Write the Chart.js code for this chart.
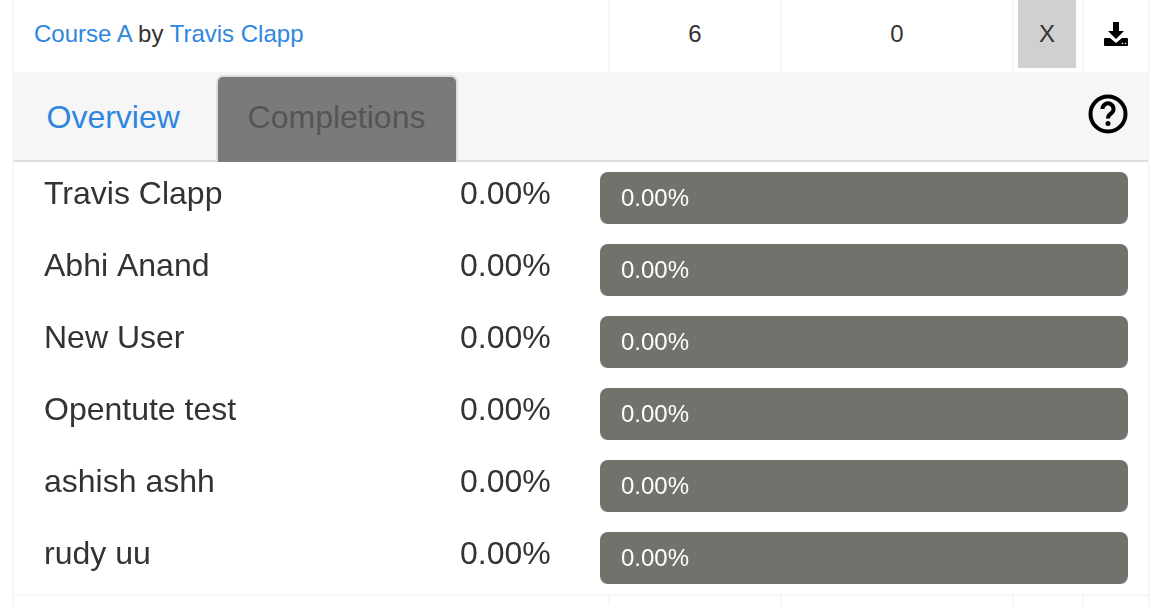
<!DOCTYPE html>
<html>
<head>
<meta charset="utf-8">
<title>Completions</title>
<script src="https://cdn.jsdelivr.net/npm/chart.js@4"></script>
<style>
    html, body { margin: 0; padding: 0; background: #fff; overflow: hidden; }
    body { position: relative; width: 1158px; height: 606px; font-family: "Liberation Sans", Arial, sans-serif; color: #333; }
    .abs { position: absolute; }
    .vline { position: absolute; width: 2px; background: #f6f6f6; }
    a { color: #2f86de; text-decoration: none; }
    .cell { position: absolute; top: 0; height: 68px; line-height: 68px; font-size: 24px; text-align: center; }
    #tabs { left: 14px; top: 72px; width: 1134px; height: 88px; background: #f6f6f6; border-bottom: 2px solid #ddd; }
    #overview { left: 46.500px; top: 98px; font-size: 32px; line-height: 38px; }
    #completions {
        left: 216px; top: 75px; width: 238px; height: 85px;
        background: #7a7a7a; border: 2px solid #ddd; border-bottom: none; border-radius: 7px 7px 0 0;
        color: #555; font-size: 32px; line-height: 80px; text-align: center; text-indent: -1px;
    }
    #chart { position: absolute; left: 0; top: 162px; }
</style>
</head>
<body>
    <div class="vline" style="left:12px;top:0;height:606px"></div>
    <div class="vline" style="left:1148px;top:0;height:606px"></div>
    <div class="vline" style="left:608px;top:0;height:72px"></div>
    <div class="vline" style="left:780px;top:0;height:72px"></div>
    <div class="vline" style="left:1012px;top:0;height:72px"></div>
    <div class="vline" style="left:1082px;top:0;height:72px"></div>
    <div class="vline" style="left:608px;top:596px;height:10px"></div>
    <div class="vline" style="left:780px;top:596px;height:10px"></div>
    <div class="vline" style="left:1012px;top:596px;height:10px"></div>
    <div class="vline" style="left:1082px;top:596px;height:10px"></div>
    <div class="abs" style="left:14px;top:594px;width:1134px;height:2px;background:#f6f6f6"></div>

    <div class="abs" style="left:34px;top:0;height:68px;line-height:68px;font-size:24px"><a>Course A</a> by <a>Travis Clapp</a></div>
    <div class="cell" style="left:610px;width:170px">6</div>
    <div class="cell" style="left:782px;width:230px">0</div>
    <div class="cell" style="left:1018px;width:58px;background:#d0d0d0">X</div>
    <svg class="abs" style="left:1103px;top:21px" width="27" height="27" viewBox="0 0 27 27">
        <path fill="#000" d="M10 1h6v9h5l-8 8-8-8h5z"/>
        <path fill="#000" d="M2 17h5l6 5 6-5h5a1 1 0 0 1 1 1v6a1 1 0 0 1-1 1H2a1 1 0 0 1-1-1v-6a1 1 0 0 1 1-1z"/>
        <circle cx="19.500" cy="22.500" r="0.800" fill="#fff"/>
        <circle cx="22.500" cy="22.500" r="0.800" fill="#fff"/>
    </svg>

    <div id="tabs" class="abs"></div>
    <a id="overview" class="abs">Overview</a>
    <div id="completions" class="abs">Completions</div>
    <svg class="abs" style="left:1088px;top:94px" width="40" height="40" viewBox="0 0 40 40">
        <circle cx="20" cy="20" r="17.500" fill="none" stroke="#000" stroke-width="4"/>
        <path fill="none" stroke="#000" stroke-width="4" d="M14.500 15a5.500 5.500 0 1 1 8.500 4.500c-2.500 1.700-3 2.800-3 5"/>
        <circle cx="20" cy="29.500" r="2.500" fill="#000"/>
    </svg>

    <canvas id="chart" width="1158" height="432"></canvas>

<script>
// Dados do grafico
const learners = ['Travis Clapp', 'Abhi Anand', 'New User', 'Opentute test', 'ashish ashh', 'rudy uu'];
const completed = [0, 0, 0, 0, 0, 0];
const remaining = [100, 100, 100, 100, 100, 100];
const axisMax = 100;

const fontFamily = '"Liberation Sans", Arial, sans-serif';

// Escreve as porcentagens: a coluna do meio e o texto dentro da barra
const percentLabels = {
    id: 'percentLabels',
    afterDatasetsDraw(chart) {
        const ctx = chart.ctx;
        const bars = chart.getDatasetMeta(1).data;
        ctx.save();
        ctx.textBaseline = 'middle';
        ctx.textAlign = 'left';
        bars.forEach((bar, i) => {
            const text = completed[i].toFixed(2) + '%';
            ctx.font = '32px ' + fontFamily;
            ctx.fillStyle = '#333';
            ctx.fillText(text, 460, bar.y - 3);
            ctx.font = '24px ' + fontFamily;
            ctx.fillStyle = '#fff';
            ctx.fillText(text, chart.chartArea.left + 21, bar.y + 1);
        });
        ctx.restore();
    }
};

new Chart(document.getElementById('chart').getContext('2d'), {
    type: 'bar',
    data: {
        labels: learners,
        datasets: [
            { label: 'Completed', data: completed, backgroundColor: '#2f86de', borderWidth: 0, barThickness: 52, inflateAmount: 0 },
            { label: 'Remaining', data: remaining, backgroundColor: '#72716b', borderWidth: 0, barThickness: 52, borderRadius: 8, borderSkipped: false, inflateAmount: 0 }
        ]
    },
    plugins: [percentLabels],
    options: {
        indexAxis: 'y',
        responsive: false,
        animation: false,
        layout: { padding: { left: 44, right: 30, top: 0, bottom: 0 } },
        plugins: { legend: { display: false }, tooltip: { enabled: false }, title: { display: false } },
        scales: {
            x: { stacked: true, display: false, min: 0, max: axisMax },
            y: {
                stacked: true,
                grid: { display: false, drawTicks: false },
                border: { display: false },
                // coluna de nomes com largura fixa, sem folga em cima e embaixo
                afterFit(scale) {
                    scale.width = 556;
                    scale.paddingTop = 0;
                    scale.paddingBottom = 0;
                },
                ticks: {
                    crossAlign: 'far',
                    padding: 0,
                    labelOffset: -3,
                    color: '#333',
                    font: { family: fontFamily, size: 32 }
                }
            }
        }
    }
});
</script>
</body>
</html>
